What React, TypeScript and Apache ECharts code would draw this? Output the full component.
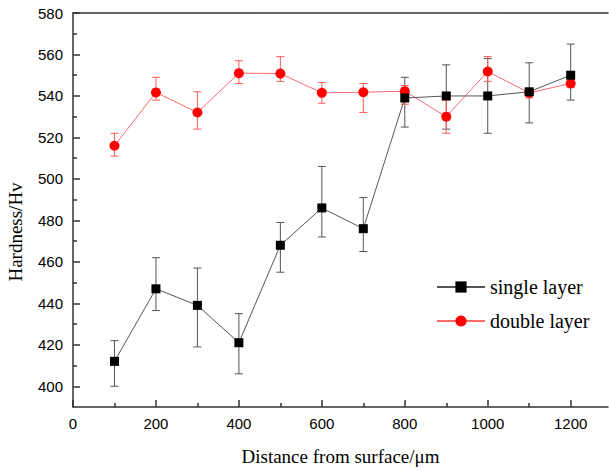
import React, { useEffect, useRef } from "react";
import * as echarts from "echarts";

const xValues = [100, 200, 300, 400, 500, 600, 700, 800, 900, 1000, 1100, 1200];
const singleMean = [412, 447, 439, 421, 468, 486, 476, 539, 540, 540, 542, 550];
const singleLow = [400, 436.5, 419, 406, 455, 472, 465, 525, 524, 522, 527, 538];
const singleHigh = [422, 462, 457, 435, 479, 506, 491, 549, 555, 558, 556, 565];
const doubleMean = [516, 541.7, 532, 551, 550.8, 541.5, 541.8, 542.3, 530, 551.8, 541.5, 546];
const doubleLow = [511, 538, 524, 546, 547, 536.5, 532, 536, 522, 547, 539, 544];
const doubleHigh = [522, 549, 542, 557, 559, 546.5, 546, 545, 538, 559, 543, 548];

const xMajorTicks = [0, 200, 400, 600, 800, 1000, 1200];
const xMinorTicks = [100, 300, 500, 700, 900, 1100];
const yMajorTicks = [400, 420, 440, 460, 480, 500, 520, 540, 560, 580];
const yMinorTicks = [410, 430, 450, 470, 490, 510, 530, 550, 570];

const seriesNames = ["single layer", "double layer"];
const yTitle = "Hardness/Hv";
const xTitle = "Distance from surface/\u03bcm";

const SERIF = "'Liberation Serif', 'Times New Roman', serif";
const SANS = "'Liberation Sans', Arial, sans-serif";

function errorBarRenderer(color: string) {
  return (params: any, api: any) => {
    const x = api.value(0);
    const lo = api.value(1);
    const hi = api.value(2);
    const pLo = api.coord([x, lo]);
    const pHi = api.coord([x, hi]);
    const w = 4;
    const style = { stroke: color, lineWidth: 1 };
    return {
      type: "group",
      children: [
        { type: "line", shape: { x1: pHi[0], y1: pHi[1], x2: pLo[0], y2: pLo[1] }, style },
        { type: "line", shape: { x1: pHi[0] - w, y1: pHi[1], x2: pHi[0] + w, y2: pHi[1] }, style },
        { type: "line", shape: { x1: pLo[0] - w, y1: pLo[1], x2: pLo[0] + w, y2: pLo[1] }, style },
      ],
    };
  };
}

export default function App() {
  const ref = useRef<HTMLDivElement>(null);
  useEffect(() => {
    if (!ref.current) return;
    const chart = echarts.init(ref.current, null, { renderer: "svg" });
    const axisColor = "#333";
    const option: any = {
      animation: false,
      backgroundColor: "#fff",
      grid: { left: 73, right: 1, top: 13, bottom: 63 },
      legend: {
        data: seriesNames,
        orient: "vertical",
        left: 431,
        top: 272,
        itemWidth: 48,
        itemHeight: 14,
        itemGap: 14,
        textStyle: { fontFamily: SERIF, fontSize: 20, color: "#000" },
      },
      graphic: [
        {
          type: "text",
          x: 15,
          y: 232,
          rotation: Math.PI / 2,
          style: {
            text: yTitle,
            align: "center",
            verticalAlign: "middle",
            fontFamily: SERIF,
            fontSize: 19,
            fill: "#000",
          },
        },
      ],
      xAxis: [
        {
          type: "value",
          min: 0,
          max: 1290,
          position: "bottom",
          name: xTitle,
          nameLocation: "middle",
          nameGap: 40,
          nameTextStyle: { fontFamily: SERIF, fontSize: 19, color: "#000" },
          axisLine: { show: true, lineStyle: { color: axisColor, width: 1.5 } },
          axisTick: { show: true, inside: true, length: 7, customValues: xMajorTicks, lineStyle: { color: axisColor, width: 1.5 } },
          axisLabel: {
            customValues: xMajorTicks,
            formatter: (v: number) => String(v),
            fontFamily: SANS,
            fontSize: 15,
            color: "#000",
            margin: 9,
          },
          splitLine: { show: false },
        },
        {
          type: "value",
          min: 0,
          max: 1290,
          position: "top",
          axisLine: { show: true, lineStyle: { color: axisColor, width: 1.5 } },
          axisTick: { show: false },
          axisLabel: { show: false },
          splitLine: { show: false },
        },
        {
          type: "value",
          min: 0,
          max: 1290,
          position: "bottom",
          axisLine: { show: false },
          axisTick: { show: true, inside: true, length: 4, customValues: xMinorTicks, lineStyle: { color: axisColor, width: 1.5 } },
          axisLabel: { show: false },
          splitLine: { show: false },
        },
      ],
      yAxis: [
        {
          type: "value",
          min: 390,
          max: 580,
          position: "left",
          axisLine: { show: true, lineStyle: { color: axisColor, width: 1.5 } },
          axisTick: { show: true, inside: true, length: 7, customValues: yMajorTicks, lineStyle: { color: axisColor, width: 1.5 } },
          axisLabel: {
            customValues: yMajorTicks,
            formatter: (v: number) => String(v),
            fontFamily: SANS,
            fontSize: 15,
            color: "#000",
            margin: 10,
          },
          splitLine: { show: false },
        },
        {
          type: "value",
          min: 390,
          max: 580,
          position: "left",
          axisLine: { show: false },
          axisTick: { show: true, inside: true, length: 4, customValues: yMinorTicks, lineStyle: { color: axisColor, width: 1.5 } },
          axisLabel: { show: false },
          splitLine: { show: false },
        },
      ],
      series: [
        {
          type: "custom",
          name: "single err",
          renderItem: errorBarRenderer("#555"),
          encode: { x: 0, y: [1, 2] },
          data: xValues.map((x, i) => [x, singleLow[i], singleHigh[i]]),
          z: 1,
          silent: true,
        },
        {
          type: "custom",
          name: "double err",
          renderItem: errorBarRenderer("#ff5c5c"),
          encode: { x: 0, y: [1, 2] },
          data: xValues.map((x, i) => [x, doubleLow[i], doubleHigh[i]]),
          z: 1,
          silent: true,
        },
        {
          type: "line",
          name: seriesNames[1],
          data: xValues.map((x, i) => [x, doubleMean[i]]),
          symbol: "circle",
          symbolSize: 10,
          lineStyle: { color: "#ff6a6a", width: 1 },
          itemStyle: { color: "#ff0000" },
          z: 2,
        },
        {
          type: "line",
          name: seriesNames[0],
          data: xValues.map((x, i) => [x, singleMean[i]]),
          symbol: "rect",
          symbolSize: 9,
          lineStyle: { color: "#555", width: 1 },
          itemStyle: { color: "#000" },
          z: 3,
        },
      ],
    };
    chart.setOption(option);
    return () => chart.dispose();
  }, []);
  return (
    <div
      ref={ref}
      style={{ position: "fixed", left: 0, top: 0, width: 609, height: 471, background: "#fff" }}
    />
  );
}
